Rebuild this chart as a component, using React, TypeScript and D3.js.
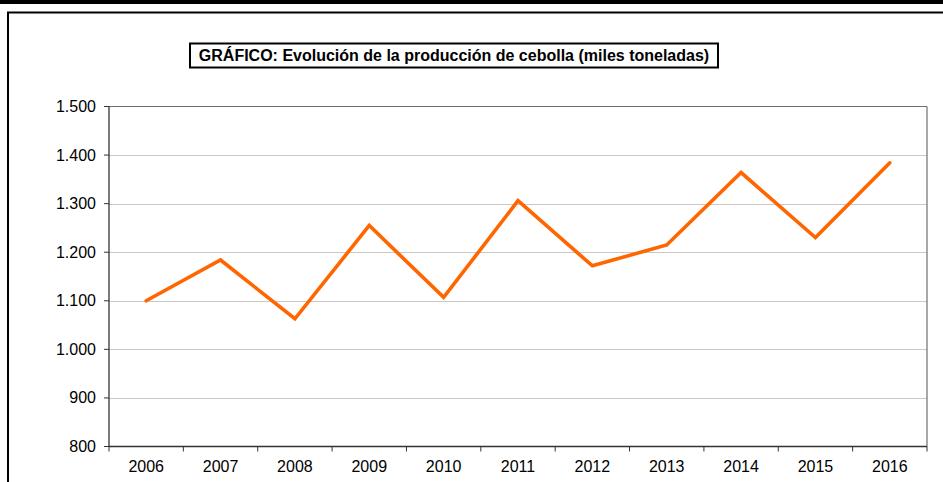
import React from "react";
import * as d3 from "d3";

const years = ["2006","2007","2008","2009","2010","2011","2012","2013","2014","2015","2016"];
const production = [1100, 1184, 1063, 1255, 1107, 1306, 1172, 1215, 1364, 1230, 1384];
const yTicks = [800, 900, 1000, 1100, 1200, 1300, 1400, 1500];
const title = "GRÁFICO: Evolución de la producción de cebolla (miles toneladas)";

const W = 943, H = 482;
const left = 109, right = 927, top = 106.5, bottom = 446.5;

const fmt = (v: number) => d3.format(",")(v).replace(/,/g, ".");

export default function App() {
  const x = d3.scaleBand<string>().domain(years).range([left, right]).paddingInner(0).paddingOuter(0);
  const y = d3.scaleLinear().domain([800, 1500]).range([bottom, top]);
  const line = d3.line<number>()
    .x((_, i) => (x(years[i]) as number) + x.bandwidth() / 2)
    .y((d) => y(d));
  const boundaries = years.map((yr) => x(yr) as number).concat([right]);
  const font = "'Liberation Sans', Arial, sans-serif";
  return (
    <svg width={W} height={H} style={{ position: "absolute", left: 0, top: 0, display: "block" }} fontFamily={font}>
      <rect x={0} y={0} width={W} height={H} fill="#fff" />
      <rect x={0} y={0} width={W} height={4} fill="#000" />
      {/* outer frame */}
      <rect x={8} y={12.5} width={W + 20} height={H + 20} fill="none" stroke="#000" strokeWidth={2} />
      {/* title */}
      <rect x={190} y={43.5} width={528} height={24} fill="#fff" stroke="#000" strokeWidth={2} />
      <text x={454} y={61} textAnchor="middle" fontSize={16} fontWeight="bold" fill="#000">{title}</text>
      {/* gridlines */}
      {yTicks.filter((t) => t !== 800 && t !== 1500).map((t) => (
        <line key={t} x1={left} x2={right} y1={Math.round(y(t)) + 0.5} y2={Math.round(y(t)) + 0.5} stroke="#c8c8c8" strokeWidth={1} />
      ))}
      {/* plot frame top/right */}
      <line x1={left} x2={right} y1={top} y2={top} stroke="#6e6e6e" strokeWidth={1.2} />
      <line x1={right} x2={right} y1={top} y2={bottom} stroke="#6e6e6e" strokeWidth={1.2} />
      {/* axes */}
      <line x1={left} x2={left} y1={top} y2={bottom} stroke="#333" strokeWidth={1.3} />
      <line x1={left} x2={right} y1={bottom} y2={bottom} stroke="#333" strokeWidth={1.3} />
      {yTicks.map((t) => (
        <g key={t}>
          <line x1={left - 5} x2={left} y1={y(t)} y2={y(t)} stroke="#333" strokeWidth={1} />
          <text x={96} y={y(t) + 5.5} textAnchor="end" fontSize={16} fill="#000">{fmt(t)}</text>
        </g>
      ))}
      {boundaries.map((b, i) => (
        <line key={i} x1={b} x2={b} y1={bottom} y2={bottom + 5} stroke="#333" strokeWidth={1} />
      ))}
      {years.map((yr) => (
        <text key={yr} x={(x(yr) as number) + x.bandwidth() / 2} y={472} textAnchor="middle" fontSize={16} fill="#000">{yr}</text>
      ))}
      <path d={line(production) || ""} fill="none" stroke="#FF6600" strokeWidth={3.6} strokeLinejoin="miter" strokeLinecap="round" />
    </svg>
  );
}
